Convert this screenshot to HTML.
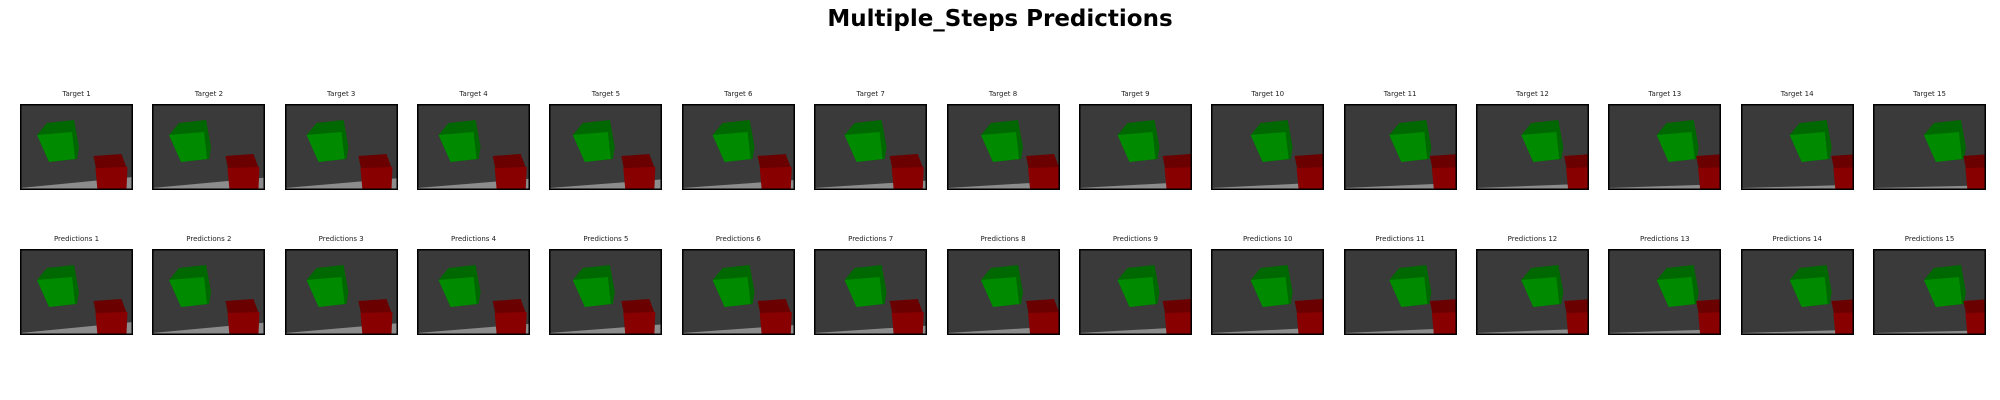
<!DOCTYPE html>
<html><head><meta charset="utf-8"><style>
body{margin:0;width:2000px;height:400px;background:#fff;font-family:"DejaVu Sans","Liberation Sans",sans-serif;position:relative;overflow:hidden}
#title{position:absolute;left:0;width:2000px;top:6px;text-align:center;font-weight:bold;font-size:23px;color:#000}
.t{position:absolute;font-size:7px;color:#222;text-align:center;width:140px}
svg.p{position:absolute}
</style></head><body>
<div id="title">Multiple_Steps Predictions</div>
<div id="root"></div>
<script>
const frames=[1,2,3,4,5,6,7,8,9,10,11,12,13,14,15];
const greenX=[0.08,0.08,0.12,0.12,0.14,0.20,0.20,0.23,0.27,0.28,0.33,0.33,0.36,0.36,0.38];
const redX=[0.65,0.65,0.65,0.67,0.64,0.67,0.67,0.70,0.74,0.74,0.76,0.78,0.78,0.80,0.80];
const root=document.getElementById('root');
const W=113,H=86,X0=20,DX=132.36,Y=[104,249];
frames.forEach((f,i)=>{
  [0,1].forEach(r=>{
    const x=X0+i*DX;
    const t=document.createElement('div');
    t.className='t';
    
    
    t.style.left=(x+W/2-70)+'px';t.style.top=(Y[r]-14)+'px';
    t.textContent=(r?'Predictions ':'Target ')+f;
    root.appendChild(t);
    const g=greenX[i]*W,rx=redX[i]*W;
    const s=document.createElementNS('http://www.w3.org/2000/svg','svg');
    s.setAttribute('class','p');
    
    
    s.setAttribute('width',W);s.setAttribute('height',H);
    s.style.left=x+'px';s.style.top=Y[r]+'px';
    s.innerHTML=`<rect width="${W}" height="${H}" fill="#3a3a3a"/>
<polygon points="0,${H-2} ${W},${H-13+i*0.6} ${W},${H} 0,${H}" fill="#8c8c8c"/>
<polygon points="${g+8},${31} ${g+18},${19} ${g+45},${16} ${g+50},${43} ${g+48},${55} ${g+20},${58}" fill="#006800"/>
<polygon points="${g+8},${31} ${g+43},${28} ${g+46},${55} ${g+20},${58}" fill="#008a00"/>
<polygon points="${rx},${52} ${rx+28},${50} ${rx+34},${66} ${rx+4},${72}" fill="#6a0000"/>
<polygon points="${rx+2},${64} ${rx+34},${63} ${rx+33},${H} ${rx+4},${H}" fill="#880000"/>
<rect x="0.75" y="0.75" width="${W-1.5}" height="${H-1.5}" fill="none" stroke="#000" stroke-width="1.5"/>`;
    root.appendChild(s);
  });
});
</script>
</body></html>
